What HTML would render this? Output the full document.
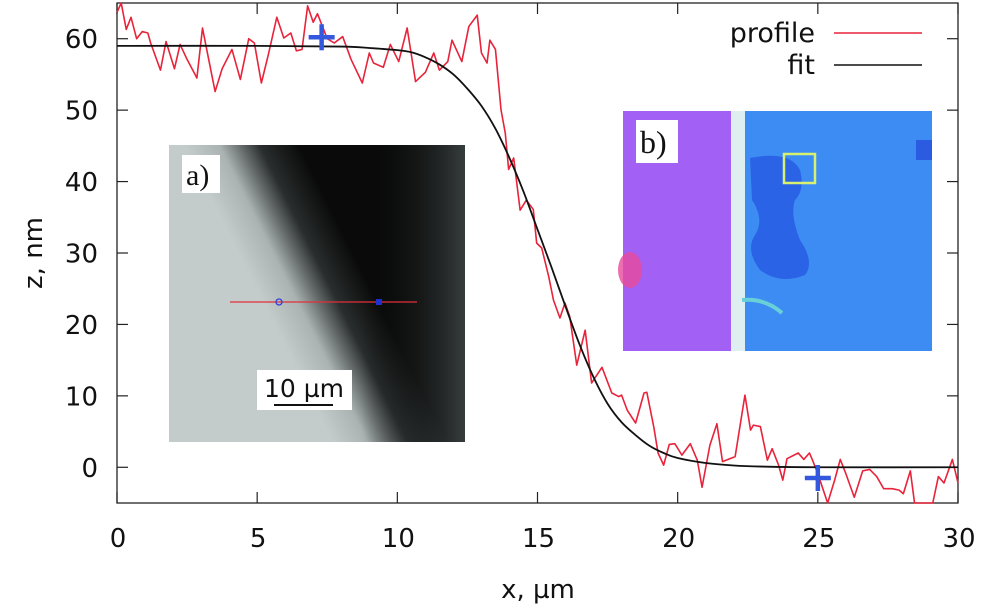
<!DOCTYPE html>
<html><head><meta charset="utf-8"><style>
body{margin:0;background:#fff;}
svg{display:block;font-family:"DejaVu Sans","Liberation Sans",sans-serif;}
</style></head><body>
<svg id="chart" width="981" height="606" viewBox="0 0 981 606">
<defs>
<linearGradient id="ga" gradientUnits="userSpaceOnUse" x1="270" y1="316" x2="362" y2="270">
<stop offset="0" stop-color="#c4cbcb"/><stop offset="0.3" stop-color="#aab2b2"/><stop offset="0.65" stop-color="#2a2e2e"/><stop offset="1" stop-color="#0a0a0a"/></linearGradient>
<linearGradient id="gr" x1="0" y1="0" x2="1" y2="0"><stop offset="0.65" stop-color="#000" stop-opacity="0"/><stop offset="1" stop-color="#4a5252" stop-opacity="0.7"/></linearGradient>
</defs>
<g id="insetA">
<rect x="169" y="145" width="296" height="297" fill="url(#ga)"/>
<rect x="169" y="145" width="296" height="297" fill="url(#gr)"/>
<rect x="182" y="155" width="38" height="38" fill="#fff"/>
<text x="186" y="185" font-family="Liberation Serif,serif" font-size="30" fill="#111">a)</text>
<line x1="230" y1="302" x2="417" y2="302" stroke="#e0303a" stroke-width="1.2"/>
<circle cx="279" cy="302" r="3" fill="none" stroke="#3040e0" stroke-width="1.3"/>
<rect x="376" y="299" width="6" height="6" fill="#2030d0"/>
<rect x="257" y="370" width="95" height="40" fill="#fff"/>
<text x="304" y="397" text-anchor="middle" font-size="25" fill="#111">10 µm</text>
<line x1="274" y1="405" x2="333" y2="405" stroke="#111" stroke-width="2"/>
</g>
<g id="insetB">
<rect x="623" y="111" width="309" height="240" fill="#3c8cf4"/>
<rect x="623" y="111" width="110" height="240" fill="#a261f4"/>
<ellipse cx="630" cy="270" rx="12" ry="18" fill="#e84a9c" opacity="0.8"/>
<rect x="731" y="111" width="14" height="240" fill="#dfeef0"/>
<path d="M750 158 Q790 150 800 170 Q805 190 795 200 Q790 215 800 240 Q815 262 805 275 Q780 285 760 270 Q745 250 755 235 Q765 220 752 200 Z" fill="#2a63e6"/>
<rect x="916" y="140" width="16" height="20" fill="#2a5be0"/>
<path d="M742 300 Q765 298 782 313" stroke="#6ad0d8" stroke-width="4" fill="none"/>
<rect x="784" y="154" width="31" height="29" fill="none" stroke="#d8f070" stroke-width="2.5"/>
<rect x="636" y="120" width="42" height="43" fill="#fff"/>
<text x="640" y="153" font-family="Liberation Serif,serif" font-size="32" fill="#111">b)</text>
</g>
<g id="axes"></g>
<g id="series"></g>
<g id="legend">
<text x="815" y="42" text-anchor="end" font-size="27" fill="#111">profile</text>
<line x1="834" y1="33" x2="922" y2="33" stroke="#e8233a" stroke-width="1.6"/>
<text x="815" y="74" text-anchor="end" font-size="27" fill="#111">fit</text>
<line x1="834" y1="65" x2="922" y2="65" stroke="#111" stroke-width="1.6"/>
</g>
<text x="538" y="598" text-anchor="middle" font-size="26" fill="#111">x, µm</text>
<text transform="translate(42,253) rotate(-90)" text-anchor="middle" font-size="26" fill="#111">z, nm</text>
</svg>
<script>
const xTicks=[0,5,10,15,20,25,30];
const yTicks=[0,10,20,30,40,50,60];
const profileX=[0,0.15,0.33,0.5,0.7,0.9,1.1,1.2,1.55,1.75,2.05,2.25,2.5,2.85,3.05,3.2,3.5,3.75,4.1,4.4,4.7,4.9,5.15,5.4,5.7,5.95,6.2,6.4,6.6,6.8,7.0,7.15,7.5,7.75,8.05,8.35,8.75,9,9.15,9.5,9.75,10.05,10.35,10.65,11,11.3,11.5,11.8,11.95,12.3,12.55,12.85,13.0,13.2,13.3,13.5,13.7,13.85,13.97,14.15,14.38,14.6,14.85,14.97,15.15,15.4,15.57,15.8,15.98,16.15,16.4,16.7,16.93,17.3,17.65,17.9,18,18.2,18.5,18.8,18.9,19.15,19.3,19.5,19.7,19.9,20.15,20.45,20.7,20.87,21.15,21.4,21.6,22.05,22.4,22.6,22.7,22.95,23.2,23.37,23.6,23.75,23.9,24.3,24.5,24.7,24.8,25,25.35,25.6,25.8,26,26.3,26.6,26.85,27.1,27.35,27.65,27.9,28.05,28.3,28.45,29.1,29.3,29.5,29.8,30];
const profileZ=[63.7,65,61.3,63,60,61,60.8,59.4,55.6,59.6,55.8,59.2,57.1,54.5,61.5,58.5,52.6,55.8,58.5,54.3,60,59.4,53.8,57.8,63,60.1,60.8,58.3,58.5,64.6,62.3,63.5,60,59.4,60.3,57.1,53.8,58,56.6,56,59.2,56.8,61.5,54,55.3,58,55.6,56.8,59.8,56.8,61.7,63.3,58,56.6,59.8,58.5,50,46.8,41.7,43.3,36,37.4,36.1,31.4,30.7,26.7,23.4,20.9,23,21.1,14.3,19.2,11.8,14,10.4,9.9,10.1,8,6.2,10.4,10.5,5.6,2,0.3,3.2,3.3,1.7,3.3,1,-2.8,3.1,6.1,0.8,1.5,10.1,5.2,5.9,5.7,1,2.6,0.3,-1.8,1.2,2,1.1,2,1.1,-0.9,-5,-1.8,1.1,-0.9,-4.2,-0.5,-0.3,-1.3,-3,-3,-3.2,-3.7,-0.5,-5,-5,-1.3,-2.2,1.1,-2.2];
const fitX=[0,5,8,9,10,10.5,11,11.5,12,12.5,13,13.5,14,14.5,15,15.5,16,16.5,17,17.5,18,18.5,19,19.5,20,21,22,23,25,30];
const fitZ=[59,59,58.9,58.7,58.4,58.1,57.4,56.4,55,53,50.6,47.4,43.3,38.6,33.3,28,22.5,17.2,12.6,8.9,6.3,4.5,3,2,1.3,0.6,0.25,0.1,0,0];
const markerX=[7.3,25];
const markerZ=[60.2,-1.5];
const X0=117,X1=958,Y0=503,Y1=3,xMin=0,xMax=30,zMin=-5,zMax=65;
const sx=v=>X0+(v-xMin)/(xMax-xMin)*(X1-X0);
const sy=v=>Y0-(v-zMin)/(zMax-zMin)*(Y0-Y1);
const NS='http://www.w3.org/2000/svg';
function mk(tag,attrs,parent){const e=document.createElementNS(NS,tag);for(const k in attrs)e.setAttribute(k,attrs[k]);parent.appendChild(e);return e;}
const ax=document.getElementById('axes'),se=document.getElementById('series');
const frame=mk('rect',{x:X0,y:Y1,width:X1-X0,height:Y0-Y1,fill:'none',stroke:'#222','stroke-width':1.3},ax);


xTicks.forEach(t=>{const x=sx(t);
mk('line',{x1:x,y1:Y0,x2:x,y2:Y0-11,stroke:'#222','stroke-width':1.2},ax);
mk('line',{x1:x,y1:Y1,x2:x,y2:Y1+11,stroke:'#222','stroke-width':1.2},ax);
const tx=mk('text',{x:x+1,y:547,'text-anchor':'middle','font-size':26,fill:'#111'},ax);tx.textContent=t;

});
yTicks.forEach(t=>{const y=sy(t);
mk('line',{x1:X0,y1:y,x2:X0+11,y2:y,stroke:'#222','stroke-width':1.2},ax);
mk('line',{x1:X1,y1:y,x2:X1-11,y2:y,stroke:'#222','stroke-width':1.2},ax);
const tx=mk('text',{x:98,y:y+9.5,'text-anchor':'end','font-size':26,fill:'#111'},ax);tx.textContent=t;

});
const pp=mk('polyline',{points:profileX.map((x,i)=>sx(x)+','+sy(profileZ[i])).join(' '),fill:'none',stroke:'#e8233a','stroke-width':1.6,'stroke-linejoin':'round'},se);


const fp=mk('path',{d:'',fill:'none',stroke:'#111','stroke-width':1.8},se);
let d='M'+sx(fitX[0])+','+sy(fitZ[0]);
for(let i=1;i<fitX.length;i++){const p0=[sx(fitX[Math.max(i-2,0)]),sy(fitZ[Math.max(i-2,0)])],p1=[sx(fitX[i-1]),sy(fitZ[i-1])],p2=[sx(fitX[i]),sy(fitZ[i])],p3=[sx(fitX[Math.min(i+1,fitX.length-1)]),sy(fitZ[Math.min(i+1,fitX.length-1)])];
d+=' C'+(p1[0]+(p2[0]-p0[0])/6)+','+(p1[1]+(p2[1]-p0[1])/6)+' '+(p2[0]-(p3[0]-p1[0])/6)+','+(p2[1]-(p3[1]-p1[1])/6)+' '+p2[0]+','+p2[1];}
fp.setAttribute('d',d);


markerX.forEach((x,i)=>{const cx=sx(x),cy=sy(markerZ[i]);
const g=mk('g',{},se);


mk('line',{x1:cx-13,y1:cy,x2:cx+13,y2:cy,stroke:'#3358dd','stroke-width':4.5},g);
mk('line',{x1:cx,y1:cy-13,x2:cx,y2:cy+13,stroke:'#3358dd','stroke-width':4.5},g);});
</script>
</body></html>
